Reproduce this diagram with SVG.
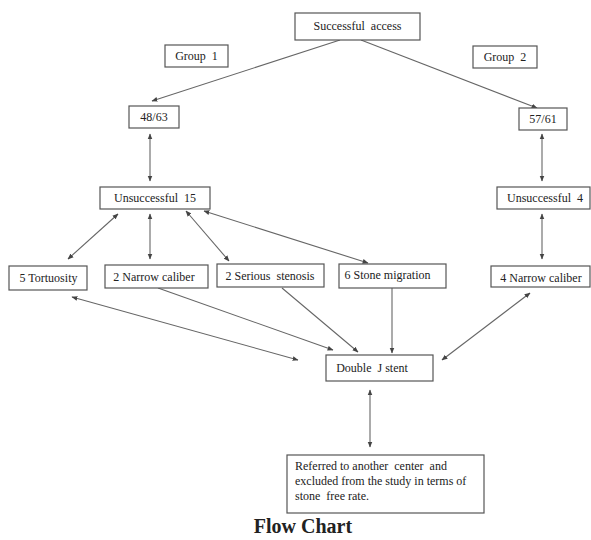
<svg xmlns="http://www.w3.org/2000/svg" width="591" height="540" viewBox="0 0 591 540" xml:space="preserve">
<style>
.box{fill:#fff;stroke:#555;stroke-width:1.2}
.t{font-family:"Liberation Serif","Times New Roman",serif;font-size:12px;fill:#222;text-anchor:middle;white-space:pre}
.tl{font-family:"Liberation Serif","Times New Roman",serif;font-size:12px;fill:#222;white-space:pre}
.c{stroke:#666;stroke-width:1.1;fill:none}
.a{marker-end:url(#ah)}
.b{marker-start:url(#ah);marker-end:url(#ah)}
</style>
<defs>
<marker id="ah" viewBox="0 0 10 10" refX="9" refY="5" markerWidth="6" markerHeight="6" markerUnits="userSpaceOnUse" orient="auto-start-reverse">
<path d="M0,1 L10,5 L0,9 z" fill="#444"/>
</marker>
</defs>
<rect width="591" height="540" fill="#fff"/>
<g id="connectors">
<line class="c a" x1="340" y1="40" x2="152" y2="101"/>
<line class="c a" x1="361" y1="40" x2="537" y2="108"/>
<line class="c b" x1="150" y1="134" x2="150" y2="181"/>
<line class="c b" x1="542" y1="134" x2="542" y2="181"/>
<line class="c b" x1="118" y1="214" x2="68" y2="259"/>
<line class="c b" x1="150" y1="214" x2="150" y2="259"/>
<line class="c b" x1="186" y1="211" x2="229" y2="261"/>
<line class="c b" x1="204" y1="211" x2="368" y2="263"/>
<line class="c b" x1="542" y1="214" x2="542" y2="259"/>
<line class="c b" x1="72" y1="297" x2="298" y2="360"/>
<line class="c a" x1="158" y1="288" x2="333" y2="350"/>
<line class="c a" x1="282" y1="288" x2="358" y2="352"/>
<line class="c a" x1="392" y1="288" x2="392" y2="353"/>
<line class="c b" x1="530" y1="293" x2="442" y2="360"/>
<line class="c b" x1="370" y1="390" x2="370" y2="447"/>
</g>
<g id="successful"><rect class="box" x="295" y="13" width="125" height="27"/><text class="t" x="357.5" y="30">Successful  access</text></g>
<g id="group1"><rect class="box" x="165" y="45" width="63" height="22"/><text class="t" x="196.5" y="60">Group  1</text></g>
<g id="group2"><rect class="box" x="473" y="46" width="64" height="22"/><text class="t" x="505" y="61">Group  2</text></g>
<g id="n4863"><rect class="box" x="129" y="106" width="50" height="22"/><text class="t" x="154" y="121">48/63</text></g>
<g id="n5761"><rect class="box" x="519" y="108" width="48" height="22"/><text class="t" x="543" y="123">57/61</text></g>
<g id="unsuc15"><rect class="box" x="100" y="187" width="110" height="22"/><text class="t" x="155" y="202">Unsuccessful  15</text></g>
<g id="unsuc4"><rect class="box" x="497" y="187" width="93" height="22"/><text class="t" x="545" y="202">Unsuccessful  4</text></g>
<g id="tortuosity"><rect class="box" x="9" y="266" width="78" height="24"/><text class="t" x="48.5" y="282">5 Tortuosity</text></g>
<g id="narrow2"><rect class="box" x="105" y="265" width="103" height="23"/><text class="t" x="154" y="281">2 Narrow caliber</text></g>
<g id="stenosis"><rect class="box" x="217" y="264" width="107" height="23"/><text class="t" x="270" y="280">2 Serious  stenosis</text></g>
<g id="migration"><rect class="box" x="339" y="264" width="107" height="24"/><text class="t" x="387.5" y="279">6 Stone migration</text></g>
<g id="narrow4"><rect class="box" x="491" y="266" width="99" height="21"/><text class="t" x="541" y="282">4 Narrow caliber</text></g>
<g id="doublej"><rect class="box" x="326" y="355" width="107" height="26"/><text class="t" x="372" y="372">Double  J stent</text></g>
<g id="referred"><rect class="box" x="287" y="455" width="197" height="58"/>
<text class="tl" x="295" y="470">Referred to another  center  and</text>
<text class="tl" x="295" y="485">excluded from the study in terms of</text>
<text class="tl" x="295" y="500">stone  free rate.</text></g>
<text x="303" y="533" font-family="Liberation Serif,'Times New Roman',serif" font-size="20" font-weight="bold" fill="#222" text-anchor="middle">Flow Chart</text>
</svg>
